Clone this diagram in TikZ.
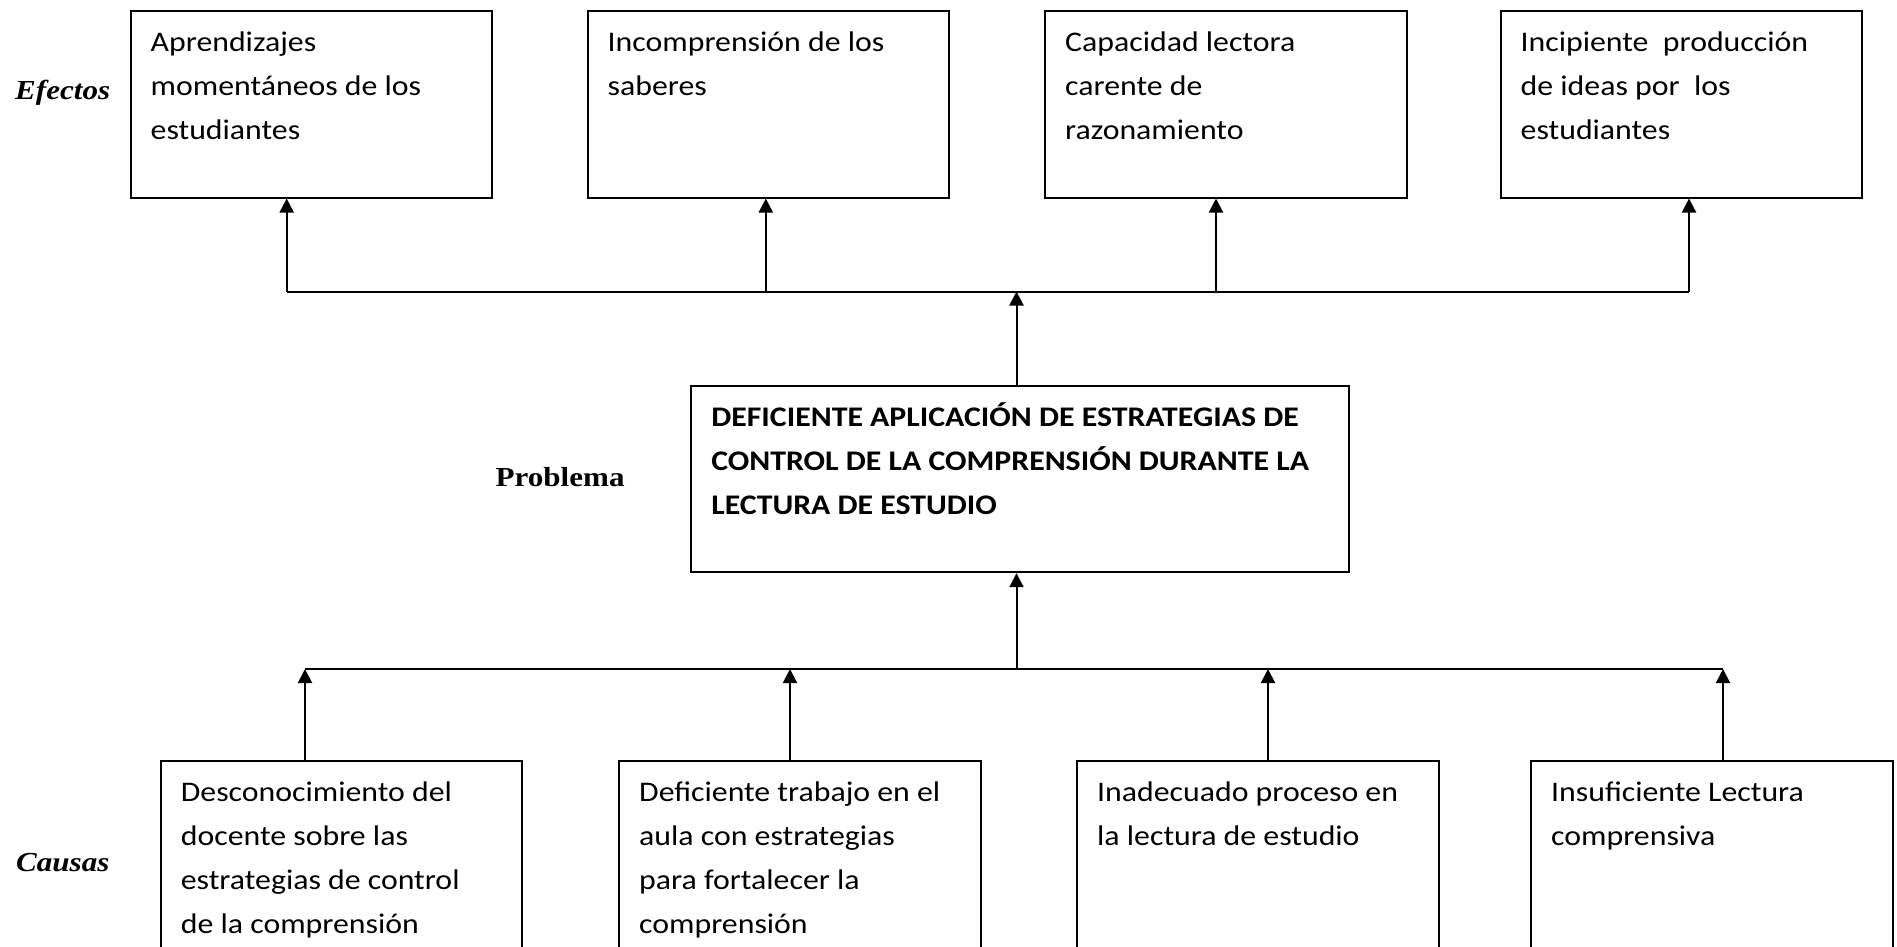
\documentclass[tikz,border=0pt]{standalone}
\usepackage{fontspec}
\setmainfont{Carlito}[FakeStretch=1.12]
\newfontfamily\labelfont{Liberation Serif}[FakeStretch=1.13]
\usetikzlibrary{arrows.meta}
\begin{document}
\begin{tikzpicture}[x=1pt,y=-1pt,
  box/.style={draw, line width=2pt, minimum width=361.5pt, anchor=north west, inner sep=0pt},
  ebox/.style={box, minimum height=187pt},
  cbox/.style={box, minimum height=260pt},
  txt/.style={anchor=north west, inner sep=0pt, align=left, font=\fontsize{28.4}{44}\selectfont},
  lbl/.style={anchor=base west, inner sep=0pt, font=\labelfont\bfseries\fontsize{27.5}{30}\selectfont},
  arr/.style={line width=2pt, -{Triangle[length=14pt,width=14pt]}},
  ln/.style={line width=2pt}]
\useasboundingbox (0,0) rectangle (1897,946);
\clip (0,0) rectangle (1897,946);
\fill[white] (0,0) rectangle (1897,946);

% effect boxes
\node[ebox] (e1) at (129.5,9.5) {};
\node[ebox] (e2) at (586.5,9.5) {};
\node[ebox] (e3) at (1044,9.5) {};
\node[ebox] (e4) at (1499.5,9.5) {};
\node[txt] (e1t) at ([shift={(21,10.5)}]e1.north west) {\strut Aprendizajes\\ \strut momentáneos de los\\ \strut estudiantes};
\node[txt] (e2t) at ([shift={(21,10.5)}]e2.north west) {\strut Incomprensión de los\\ \strut saberes};
\node[txt] (e3t) at ([shift={(21,10.5)}]e3.north west) {\strut Capacidad lectora\\ \strut carente de\\ \strut razonamiento};
\node[txt] (e4t) at ([shift={(21,10.5)}]e4.north west) {\strut Incipiente\ \ producción\\ \strut de ideas por\ \ los\\ \strut estudiantes};

% problem box
\node[box, minimum width=658pt, minimum height=186.5pt] (p) at (689.6,384.7) {};
\node[txt, font=\fontsize{28.4}{44}\selectfont\bfseries] (pt) at ([shift={(21.5,10.5)}]p.north west) {\strut DEFICIENTE APLICACIÓN DE ESTRATEGIAS DE\\ \strut CONTROL DE LA COMPRENSIÓN DURANTE LA\\ \strut LECTURA DE ESTUDIO};

% cause boxes
\node[cbox] (c1) at (159.7,759.5) {};
\node[cbox] (c2) at (618,759.5) {};
\node[cbox] (c3) at (1076,759.5) {};
\node[cbox] (c4) at (1530,759.5) {};
\node[txt] (c1t) at ([shift={(21,10.5)}]c1.north west) {\strut Desconocimiento del\\ \strut docente sobre las\\ \strut estrategias de control\\ \strut de la comprensión};
\node[txt] (c2t) at ([shift={(21,10.5)}]c2.north west) {\strut Deficiente trabajo en el\\ \strut aula con estrategias\\ \strut para fortalecer la\\ \strut comprensión};
\node[txt] (c3t) at ([shift={(21,10.5)}]c3.north west) {\strut Inadecuado proceso en\\ \strut la lectura de estudio};
\node[txt] (c4t) at ([shift={(21,10.5)}]c4.north west) {\strut Insuficiente Lectura\\ \strut comprensiva};

% labels
\node[lbl] (lef) at (15,99.3) {\itshape Efectos};
\node[lbl] (lpr) at (495.5,486.7) {Problema};
\node[lbl] (lca) at (16,871.7) {\itshape Causas};

% top connectors
\coordinate (t1) at (286.7,291.5);
\coordinate (t2) at (765.8,291.5);
\coordinate (t3) at (1216,291.5);
\coordinate (t4) at (1689,291.5);
\coordinate (tm) at (1016.5,291.5);
\draw[ln] (t1) -- (t4);
\draw[arr] (t1) -- (t1 |- e1.south);
\draw[arr] (t2) -- (t2 |- e2.south);
\draw[arr] (t3) -- (t3 |- e3.south);
\draw[arr] (t4) -- (t4 |- e4.south);
\draw[arr] (tm |- p.north) -- (tm);

% bottom connectors
\coordinate (b1) at (305,669);
\coordinate (b2) at (790,669);
\coordinate (b3) at (1268,669);
\coordinate (b4) at (1723,669);
\coordinate (bm) at (1016.5,669);
\draw[ln] (b1) -- (b4);
\draw[arr] (bm) -- (bm |- p.south);
\draw[arr] (b1 |- c1.north) -- (b1);
\draw[arr] (b2 |- c2.north) -- (b2);
\draw[arr] (b3 |- c3.north) -- (b3);
\draw[arr] (b4 |- c4.north) -- (b4);
\end{tikzpicture}
\end{document}
